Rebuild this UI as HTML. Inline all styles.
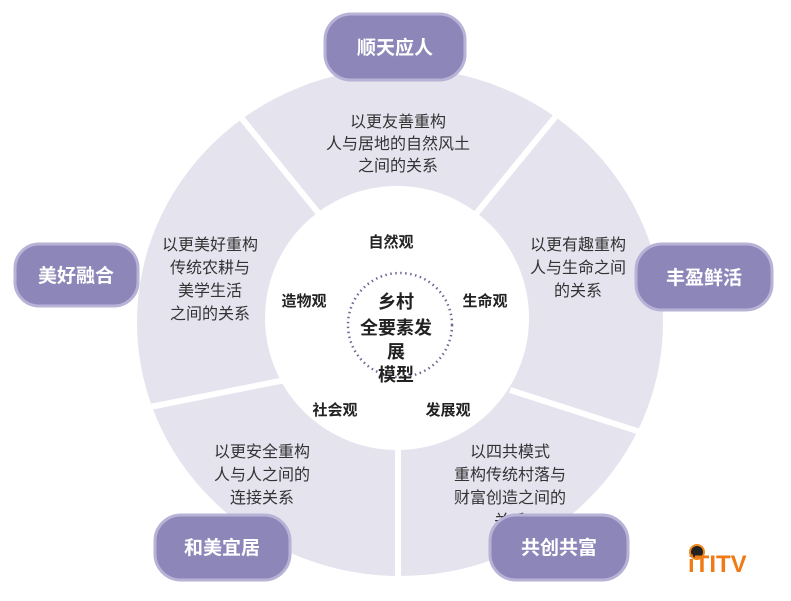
<!DOCTYPE html>
<html><head><meta charset="utf-8"><style>
body{margin:0;background:#fff;}
svg{display:block;}
text{font-family:"Liberation Sans","Noto Sans CJK SC",sans-serif;}
</style></head><body>
<svg width="791" height="601" viewBox="0 0 791 601" xmlns="http://www.w3.org/2000/svg">
<rect width="791" height="601" fill="#fff"/>
<ellipse cx="400" cy="322" rx="263" ry="254" fill="#e5e3ee"/>
<g stroke="#fff" stroke-width="6">
<line x1="320" y1="215" x2="235" y2="110"/>
<line x1="475" y1="215" x2="565" y2="105"/>
<line x1="510" y1="390" x2="665" y2="440"/>
<line x1="398" y1="440" x2="398" y2="580"/>
<line x1="285" y1="380" x2="135" y2="410"/>
</g>
<circle cx="397" cy="318" r="132" fill="#fff"/>
<circle cx="400" cy="325" r="52" fill="none" stroke="#6d6a99" stroke-width="2.5" stroke-dasharray="1.5 3.5"/>
<g font-size="15" font-weight="bold" fill="#222" text-anchor="middle">
<text x="391" y="247">自然观</text>
<text x="304" y="306">造物观</text>
<text x="485" y="306">生命观</text>
<text x="335" y="415">社会观</text>
<text x="448" y="415">发展观</text>
</g>
<g font-size="18" font-weight="bold" fill="#222" text-anchor="middle">
<text x="396" y="308">乡村</text>
<text x="396" y="334">全要素发</text>
<text x="396" y="358">展</text>
<text x="396" y="381">模型</text>
</g>
<g font-size="16" fill="#333" text-anchor="middle">
<text x="398" y="127">以更友善重构</text>
<text x="398" y="149">人与居地的自然风土</text>
<text x="398" y="171">之间的关系</text>
<text x="210" y="250">以更美好重构</text>
<text x="210" y="273">传统农耕与</text>
<text x="210" y="296">美学生活</text>
<text x="210" y="319">之间的关系</text>
<text x="578" y="250">以更有趣重构</text>
<text x="578" y="273">人与生命之间</text>
<text x="578" y="296">的关系</text>
<text x="262" y="457">以更安全重构</text>
<text x="262" y="480">人与人之间的</text>
<text x="262" y="503">连接关系</text>
<text x="510" y="457">以四共模式</text>
<text x="510" y="480">重构传统村落与</text>
<text x="510" y="503">财富创造之间的</text>
<text x="510" y="526">关系</text>
</g>
<g fill="#8d86b9" stroke="#b7b2d6" stroke-width="3">
<rect x="325" y="14" width="140" height="66" rx="26"/>
<rect x="15" y="244" width="123" height="62" rx="24"/>
<rect x="636" y="244" width="136" height="66" rx="26"/>
<rect x="155" y="515" width="135" height="65" rx="26"/>
<rect x="490" y="515" width="138" height="65" rx="26"/>
</g>
<g font-size="19" font-weight="bold" fill="#fff" text-anchor="middle">
<text x="395" y="54">顺天应人</text>
<text x="76" y="282">美好融合</text>
<text x="704" y="284">丰盈鲜活</text>
<text x="222" y="554">和美宜居</text>
<text x="559" y="554">共创共富</text>
</g>
<circle cx="697" cy="552" r="7" fill="#222" stroke="#f08a1c" stroke-width="2"/>
<text x="688" y="572" font-family="Liberation Serif,serif" font-size="24" font-weight="bold" fill="#f07a14">iTITV</text>
</svg>
</body></html>
